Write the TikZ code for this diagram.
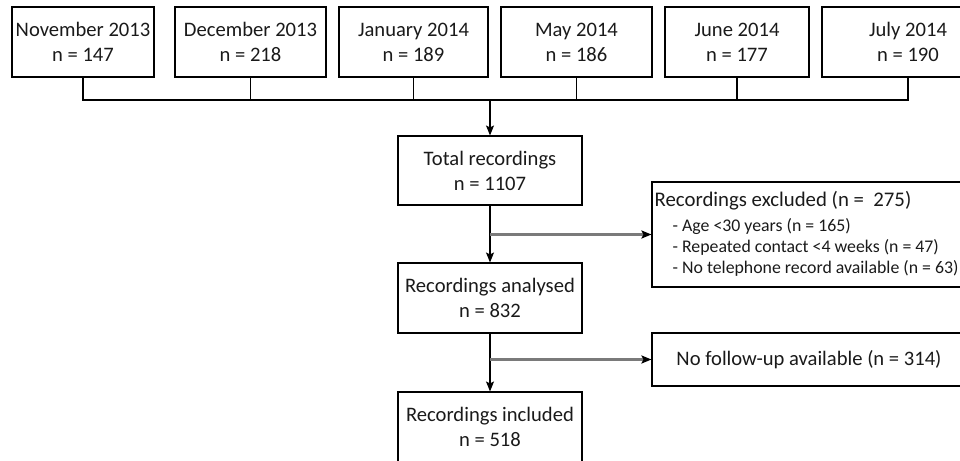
\documentclass[tikz,border=0pt]{standalone}
\usepackage{fontspec}
\setmainfont{Carlito}
\usetikzlibrary{arrows.meta}
\definecolor{txt}{HTML}{1A1A1A}
\tikzset{
  box/.style={draw=black, line width=1.1pt, minimum height=70pt, inner sep=0pt,
    align=center, text=txt, font=\fontsize{20.6}{25}\selectfont},
  conn/.style={draw=black, line width=1.1pt},
  arr/.style={conn, -{Stealth[length=10pt,width=8pt,inset=2pt]}},
  branch/.style={draw=black!52, line width=2.2pt,
    -{Stealth[length=10pt,width=8pt,inset=2pt,color=black]}},
  head/.style={anchor=base west, inner sep=0pt, text=txt, font=\fontsize{20.8}{25}\selectfont},
  item/.style={anchor=base west, inner sep=0pt, text=txt, font=\fontsize{17.8}{21}\selectfont}
}
\begin{document}
\begin{tikzpicture}[x=1pt,y=-1pt]
\useasboundingbox (0,0) rectangle (960,460);
\clip (0,0) rectangle (960,460);
% top boxes
\node[box, minimum width=142pt] (nov) at (83,42) {November 2013\\n = 147};
\node[box, minimum width=151pt] (dec) at (250.5,42) {December 2013\\n = 218};
\node[box, minimum width=149pt] (jan) at (413.5,42) {January 2014\\n = 189};
\node[box, minimum width=151pt] (may) at (576.5,42) {May 2014\\n = 186};
\node[box, minimum width=144pt] (jun) at (737,42) {June 2014\\n = 177};
\node[box, minimum width=172pt] (jul) at (908,42) {July 2014\\n = 190};
% flow boxes
\node[box, minimum width=184pt, minimum height=69pt] (total) at (490,170.5) {Total recordings\\n = 1107};
\node[box, minimum width=184pt] (anal) at (490,298) {Recordings analysed\\n = 832};
\node[box, minimum width=184pt] (incl) at (490,427) {Recordings included\\n = 518};
\node[draw=black, line width=1.1pt, minimum width=338pt, minimum height=105pt, inner sep=0pt] (exc) at (821,234.5) {};
\node[box, minimum width=314pt, minimum height=53pt] (nofu) at (809,359.5) {No follow-up available (n = 314)};
% excluded texts
\node[head] (exch) at ([shift={(3,25)}]exc.north west) {Recordings excluded (n =\ \ 275)};
\node[item] (exc1) at ([shift={(21,50)}]exc.north west) {- Age <30 years (n = 165)};
\node[item] (exc2) at ([shift={(21,71)}]exc.north west) {- Repeated contact <4 weeks (n = 47)};
\node[item] (exc3) at ([shift={(21,92)}]exc.north west) {- No telephone record available (n = 63)};
% bus
\coordinate (busy) at (0,100);
\coordinate (busc) at (total.north |- busy);
\draw[conn] (nov.south) |- (jul.south |- busy) -- (jul.south);
\draw[conn] (dec.south) -- (dec.south |- busy);
\draw[conn] (jan.south) -- (jan.south |- busy);
\draw[conn] (may.south) -- (may.south |- busy);
\draw[conn] (jun.south) -- (jun.south |- busy);
\draw[arr] (busc) -- (total.north);
% trunk
\draw[arr] (total.south) -- (anal.north);
\draw[arr] (anal.south) -- (incl.north);
\coordinate (b1) at (total.south |- exc.west);
\coordinate (b2) at (anal.south |- nofu.west);
\draw[branch] (b1) -- (exc.west);
\draw[branch] (b2) -- (nofu.west);
\end{tikzpicture}
\end{document}
